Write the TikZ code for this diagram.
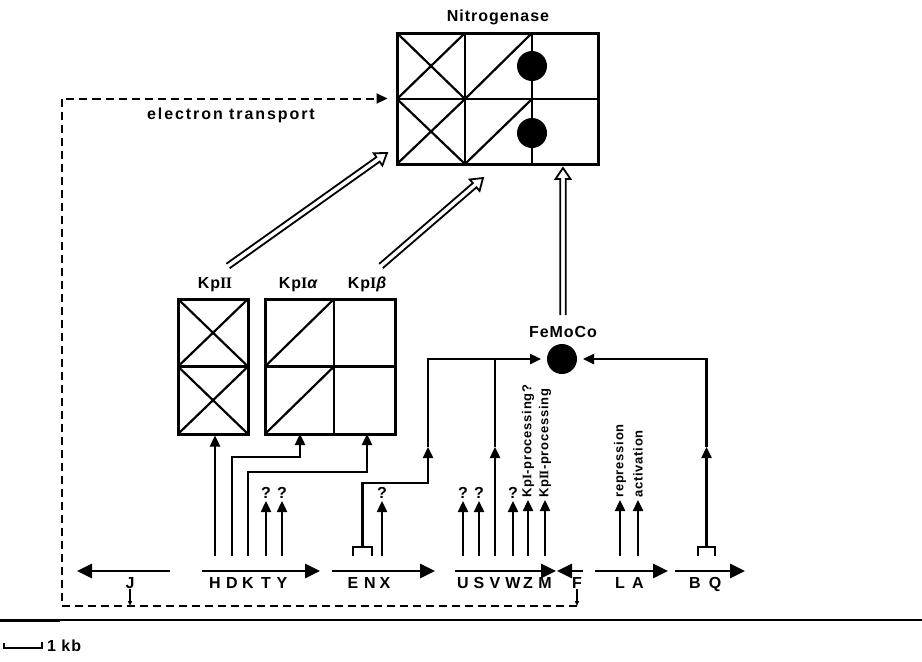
\documentclass[tikz,border=0pt]{standalone}
\usepackage{fontspec}
\setmainfont{Liberation Sans}[LetterSpace=6]
\newfontfamily\romnum{Liberation Serif}
\usetikzlibrary{arrows.meta, calc}

\newcommand\RI{{\romnum\bfseries I}}
\newcommand\RII{{\romnum\bfseries I\kern-0.4pt I}}
\newcommand\greek[1]{{\bfseries\itshape #1}}
\newcommand\hollowarrow[2]{%
  \coordinate (hb) at ($(#2)!11pt!(#1)$);
  \draw[hollow] ($(#1)!2.8pt!90:(#2)$) -- ($(hb)!2.8pt!-90:(#1)$)
    -- ($(hb)!7.5pt!-90:(#1)$) -- (#2) -- ($(hb)!7.5pt!90:(#1)$)
    -- ($(hb)!2.8pt!90:(#1)$) -- ($(#1)!2.8pt!-90:(#2)$);}

\begin{document}
\begin{tikzpicture}[x=1pt, y=-1pt, >={Triangle[length=11pt, width=10pt]}]
\useasboundingbox (0,0) rectangle (922,662);

% Stili
\tikzstyle{box} = [draw, line width=3pt, inner sep=0pt]
\tikzstyle{grid} = [line width=2.2pt]
\tikzstyle{sig} = [line width=2.4pt, ->]
\tikzstyle{conn} = [line width=2.4pt]
\tikzstyle{gene} = [line width=2.8pt, -{Triangle[length=15pt, width=14pt]}]
\tikzstyle{etrans} = [line width=2pt, dash pattern=on 8pt off 5pt, ->, shorten >=8pt]
\tikzstyle{tick} = [line width=1.8pt, -{Triangle[length=5pt, width=4pt]}]
\tikzstyle{hollow} = [line width=1.8pt, line join=miter]
\tikzstyle{prom} = [line width=2.2pt]
\tikzstyle{lbl} = [inner sep=1pt, anchor=base, font=\fontsize{16}{16}\selectfont\bfseries]
\tikzstyle{gname} = [inner sep=0pt, anchor=base, font=\fontsize{16}{16}\selectfont\bfseries]
\tikzstyle{q} = [inner sep=2pt, anchor=south, font=\fontsize{16}{16}\selectfont\bfseries]
\tikzstyle{vlab} = [inner sep=2pt, anchor=west, rotate=90, font=\fontsize{13}{13}\selectfont\bfseries]

% Nitrogenasi
\node[box, minimum width=201pt, minimum height=131pt] (nitro) at (497.5,98.5) {};
\node[lbl] (nitrolab) at (498,21) {Nitrogenase};
\draw[grid] (397,99) -- (598,99) (465,33) -- (465,164) (532,33) -- (532,164);
\foreach \t/\b in {33/99, 99/164} {
  \draw[grid] (397,\t) -- (465,\b) (465,\t) -- (397,\b);
  \draw[grid] (465,\b) -- (532,\t);
}
\fill (532,66) circle (15);
\fill (532,133) circle (15);

% Kp II, Kp I
\node[box, minimum width=70pt, minimum height=135pt] (kp2) at (213,366.5) {};
\draw[grid] (178,366.5) -- (248,366.5);
\foreach \t/\b in {299/366.5, 366.5/434}
  \draw[grid] (178,\t) -- (248,\b) (248,\t) -- (178,\b);
\node[box, minimum width=130pt, minimum height=135pt] (kp1) at (330,366.5) {};
\draw[grid] (265,366.5) -- (395,366.5) (334,299) -- (334,434);
\foreach \t/\b in {299/366.5, 366.5/434}
  \draw[grid] (265,\b) -- (334,\t);
\node[lbl] (kp2lab) at (215,288) {Kp\RII};
\node[lbl] (kpalab) at (298,288) {Kp\RI\greek{α}};
\node[lbl] (kpblab) at (367,288) {Kp\RI\greek{β}};
\coordinate (kpa) at (300,434);
\coordinate (kpb) at (367,434);

% FeMoCo
\node[circle, fill, minimum size=30pt, inner sep=0pt, outer sep=6pt] (femoco) at (562,359) {};
\node[lbl] (femolab) at (563,337) {FeMoCo};

% Frecce vuote
\coordinate (h1a) at (228,266); \coordinate (h1b) at (387,153);
\coordinate (h2a) at (381,266); \coordinate (h2b) at (483,178);
\coordinate (h3a) at (563,315); \coordinate (h3b) at (563,168);
\hollowarrow{h1a}{h1b}
\hollowarrow{h2a}{h2b}
\hollowarrow{h3a}{h3b}

% Geni
\foreach \a/\b in {170/77, 202/320, 332/435, 455/556, 583/557, 595/668, 675/745}
  \draw[gene] (\a,571) -- (\b,571);
\foreach \x/\g in {130/J, 215/H, 232/D, 248/K, 266/T, 282/Y, 353/E, 370/N, 385/X,
    463/U, 479/S, 495/V, 513/W, 528/Z, 545/M, 577/F, 620/L, 638/A, 695/B, 715/Q}
  \node[gname] (g\g) at (\x,588) {\g};
\draw[prom] (353,556) -- (353,547) -- (372,547) -- (372,556);
\draw[prom] (698,556) -- (698,547) -- (715,547) -- (715,556);
\coordinate (pENX) at (362.5,547);
\coordinate (pBQ) at (706.5,547);

% Etichette
\foreach \g/\x in {T/266, Y/282, X/382, U/463, S/479, W/513}
  \node[q] (q\g) at (\x,501) {?};
\node[vlab] (lZ) at (528,500) {Kp\RI-processing?};
\node[vlab] (lM) at (545,500) {Kp\RII-processing};
\node[vlab] (lL) at (620,500) {repression};
\node[vlab] (lA) at (638,500) {activation};
\node[lbl, font=\fontsize{16}{16}\selectfont\bfseries\addfontfeatures{LetterSpace=12}] (et) at (231,119) {electron transport};

% Frecce
\draw[sig] (gH |- 0,556) -- (gH |- kp2.south);
\draw[sig] (gD |- 0,556) |- ($(kpa)+(0,23)$) -- (kpa);
\draw[sig] (gK |- 0,556) |- ($(kpb)+(0,38)$) -- (kpb);
\foreach \g in {T, Y, U, S, W}
  \draw[sig] (g\g |- 0,556) -- (q\g);
\draw[sig] (382,556) -- (qX);
\foreach \g in {Z, M, L, A}
  \draw[sig] (g\g |- 0,556) -- (l\g);

\coordinate (mENX) at (428,447);
\coordinate (mV) at (495,447);
\coordinate (mBQ) at (706.5,447);
\draw[sig] (pENX) |- (428,483) -- (mENX);
\draw[sig] (mENX) |- (femoco);
\draw[sig] (gV |- 0,556) -- (mV);
\draw[conn] (mV) -- (mV |- femoco);
\draw[sig] (pBQ) -- (mBQ);
\draw[sig] (mBQ) |- (femoco);

% Trasporto elettronico
\coordinate (dl) at (62,606);
\draw[tick, shorten <=1pt] (gJ.south) -- (gJ |- dl);
\draw[tick, shorten <=1pt] (gF.south) -- (gF |- dl);
\draw[etrans] (gF |- dl) -- (dl) |- (nitro.west);

% Mappa e scala
\draw[line width=3pt] (0,620) -- (60,620);
\draw[line width=2.4pt] (60,620) -- (475,620);
\draw[line width=1.8pt] (475,620) -- (922,620);
\draw[line width=1.8pt] (4,643) -- (4,648) -- (42,648) -- (42,642);
\node[lbl, anchor=west] (kb) at (46,646) {1 kb};

\end{tikzpicture}
\end{document}
